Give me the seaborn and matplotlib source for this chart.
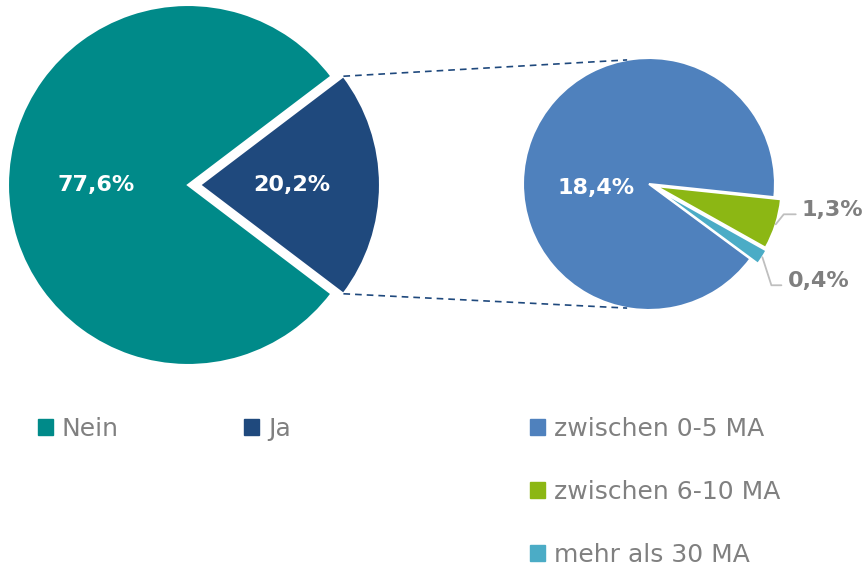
import numpy as np
import matplotlib
matplotlib.use("Agg")
import matplotlib.pyplot as plt
from matplotlib.patches import Patch
import seaborn as sns

# Daten
labels_main = ["Nein", "Ja"]
values_main = [77.6, 20.2]
labels_sub = ["zwischen 0-5 MA", "zwischen 6-10 MA", "mehr als 30 MA"]
values_sub = [18.4, 1.3, 0.4]

colors_main = ["#008A89", "#1F497D"]
colors_sub = ["#4F81BD", "#8CB714", "#4BACC6"]

sns.set_theme(style="white")
plt.rcParams["font.family"] = ["DejaVu Sans"]

W, H = 863, 566
fig = plt.figure(figsize=(W / 100, H / 100), dpi=100)
ax = fig.add_axes([0, 0, 1, 1])

def fmt(v):
    return f"{v:.1f}%".replace(".", ",")

# linker Kreis (explode in Datenpixeln)
r1, c1 = 180, (188, H - 185)
ja_frac = values_main[1] / sum(values_main)
w_main, _ = ax.pie(values_main, colors=colors_main, radius=r1, center=c1,
                   startangle=180 * ja_frac, explode=[0, 12],
                   wedgeprops=dict(edgecolor="white", linewidth=1.5), frame=True)

# rechter Kreis
r2, c2 = 126, (649, H - 184)
small_frac = sum(values_sub[1:]) / sum(values_sub)
w_sub, _ = ax.pie(values_sub, colors=colors_sub, radius=r2, center=c2,
                  startangle=-6 - 360 * small_frac, counterclock=False,
                  explode=[0, 7, 9],
                  wedgeprops=dict(edgecolor="white", linewidth=1.5), frame=True)
ax.set_xlim(0, W)
ax.set_ylim(0, H)
ax.set_aspect("equal")
ax.axis("off")

def polar(center, r, ang):
    a = np.deg2rad(ang)
    return center[0] + r * np.cos(a), center[1] + r * np.sin(a)

lab_font = dict(fontsize=16, fontweight="bold", ha="center", va="center")

# Beschriftungen innen
for w, v in zip(w_main, values_main):
    mid = (w.theta1 + w.theta2) / 2
    x, y = polar(w.center, w.r * 0.51, mid)
    ax.text(x, y, fmt(v), color="white", **lab_font)
x, y = polar(w_sub[0].center, r2 * 0.42, 184)
ax.text(x, y, fmt(values_sub[0]), color="white", **lab_font)

# Beschriftungen außen mit Führungslinien
leader = [((8, 10), 12, 6), ((9, -28), 10, 6)]
for w, v, ((dx, dy), hl, gap) in zip(w_sub[1:], values_sub[1:], leader):
    mid = (w.theta1 + w.theta2) / 2
    x0, y0 = polar(w.center, w.r, mid)
    x1, y1 = x0 + dx, y0 + dy
    ax.plot([x0, x1, x1 + hl], [y0, y1, y1], color="#BFBFBF", lw=1.3)
    ax.text(x1 + hl + gap, y1 - 2, fmt(v), color="#7F7F7F", fontsize=16,
            fontweight="bold", ha="left", va="baseline")

# gestrichelte Verbindungslinien
ja = w_main[1]
for a_ja, a_sub in [(ja.theta2, 100), (ja.theta1, 260)]:
    x0, y0 = polar(ja.center, ja.r, a_ja)
    x1, y1 = polar(c2, r2, a_sub)
    ax.plot([x0, x1], [y0, y1], color="#1F497D", lw=1.2, ls=(0, (4, 3)))

# Legenden
leg_kw = dict(loc="upper left", frameon=False, fontsize=18, labelcolor="#808080",
              handlelength=0.6, handleheight=0.6, handletextpad=0.36,
              borderpad=0, borderaxespad=0)
h_main = [Patch(color=c) for c in colors_main]
fig.legend(h_main, labels_main, ncol=2, columnspacing=5.0,
           bbox_to_anchor=(38 / W, 1 - 417 / H), **leg_kw)
h_sub = [Patch(color=c) for c in colors_sub]
fig.legend(h_sub, labels_sub, labelspacing=1.55,
           bbox_to_anchor=(530 / W, 1 - 417 / H), **leg_kw)

fig.savefig("out.png", dpi=100, facecolor="white")
